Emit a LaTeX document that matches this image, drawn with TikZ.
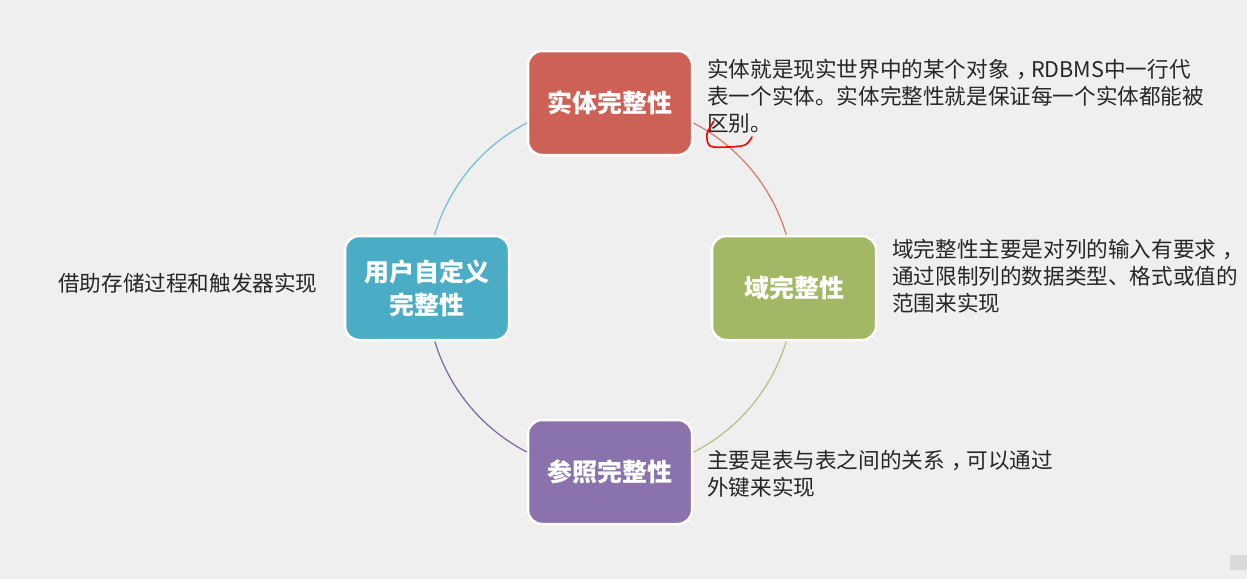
\documentclass[tikz,border=0pt]{standalone}
\usepackage{fontspec}
\setmainfont{Noto Sans CJK SC}
\usepackage{xcolor}
\usetikzlibrary{backgrounds}
\definecolor{bggray}{HTML}{EFEFEF}
\definecolor{entred}{HTML}{CD6155}
\definecolor{domgreen}{HTML}{A3B865}
\definecolor{refpurple}{HTML}{8A72AC}
\definecolor{usrblue}{HTML}{4BACC6}
\newcommand{\midcomma}{\kern0.3em，\kern-0.3em}

\begin{document}
\begin{tikzpicture}[x=1pt, y=-1pt,
    box/.style={draw=white, line width=2.5pt, rounded corners=14pt,
        minimum width=164pt, minimum height=104pt, inner sep=0pt,
        align=center, text=white, font=\bfseries\fontsize{25}{33}\selectfont},
    note/.style={anchor=north west, align=left, inner sep=0pt,
        text=black!85, font=\fontsize{21.6}{27}\selectfont},
    ring/.style={line width=1.2pt}]
    \path (610, 103) node [box, fill=entred] (ent) {实体完整性};
    \path (794, 288) node [box, fill=domgreen] (dom) {域完整性};
    \path (610, 472) node [box, fill=refpurple] (ref) {参照完整性};
    \path (427, 288) node [box, fill=usrblue] (usr) {用户自定义\\完整性};

    \path (707, 59) node [note] (entnote)
	{实体就是现实世界中的某个对象\midcomma RDBMS中一行代\\表一个实体。实体完整性就是保证每一个实体都能被\\区别。};
    \path (892, 239) node [note] (domnote)
	{域完整性主要是对列的输入有要求\midcomma\\通过限制列的数据类型、格式或值的\\范围来实现};
    \path (707, 450) node [note] (refnote)
	{主要是表与表之间的关系\midcomma 可以通过\\外键来实现};
    \path (58, 273) node [note] (usrnote) {借助存储过程和触发器实现};

    \begin{pgfonlayer}{background}
    \path [use as bounding box, fill=bggray] (0, 0) rectangle (1247, 579);
    \draw [ring, entred!85] (ent.center) to[out=0, in=90] (dom.center);
    \draw [ring, domgreen!85] (dom.center) to[out=270, in=0] (ref.center);
    \draw [ring, refpurple!90!black] (ref.center) to[out=180, in=270] (usr.center);
    \draw [ring, usrblue!80] (usr.center) to[out=90, in=180] (ent.center);
    \end{pgfonlayer}

    % hand mark
    \draw [red, line width=1.6pt, line cap=round] plot [smooth] coordinates
	{(714, 121) (707, 134) (710, 146) (728, 147) (745, 145) (752, 137)};
    \fill [black!15] (1230, 555) rectangle (1247, 570);
\end{tikzpicture}
\end{document}
